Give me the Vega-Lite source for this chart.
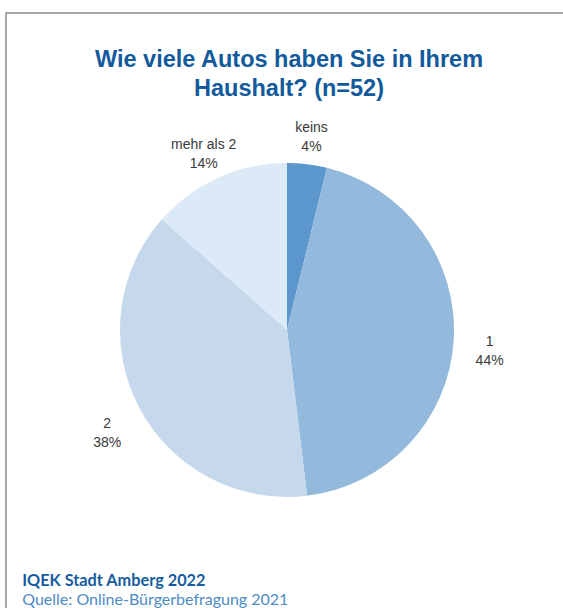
{
  "$schema": "https://vega.github.io/schema/vega-lite/v6.json",
  "background": "white",
  "padding": {"left": 5, "top": 12, "right": 0, "bottom": 0},
  "title": {
    "text": "IQEK Stadt Amberg 2022",
    "subtitle": "Quelle: Online-Bürgerbefragung 2021",
    "orient": "bottom",
    "anchor": "start",
    "offset": -75,
    "dx": 17,
    "font": "Lato",
    "fontSize": 16.3,
    "fontWeight": "bold",
    "color": "#165c9e",
    "subtitleFont": "Lato",
    "subtitleFontSize": 16,
    "subtitleFontWeight": "normal",
    "subtitleColor": "#4d8bc6",
    "subtitlePadding": 3
  },
  "datasets": {
    "autos": [
      {"kategorie": "keins", "anzahl": 2, "rang": 1, "label": "keins\n4%"},
      {"kategorie": "1", "anzahl": 23, "rang": 2, "label": "1\n44%"},
      {"kategorie": "2", "anzahl": 20, "rang": 3, "label": "2\n38%"},
      {"kategorie": "mehr als 2", "anzahl": 7, "rang": 4, "label": "mehr als 2\n14%"}
    ]
  },
  "vconcat": [
    {
      "width": 562,
      "height": 634,
      "view": {"stroke": "#8c8c8c", "strokeWidth": 1.5, "fill": "white"},
      "title": {
        "text": ["Wie viele Autos haben Sie in Ihrem", "Haushalt? (n=52)"],
        "orient": "top",
        "anchor": "middle",
        "frame": "group",
        "offset": -87,
        "dx": 2,
        "font": "Liberation Sans",
        "fontSize": 23.5,
        "fontWeight": "bold",
        "color": "#125a9c",
        "lineHeight": 29
      },
      "data": {"name": "autos"},
      "encoding": {
        "theta": {"field": "anzahl", "type": "quantitative", "stack": true},
        "order": {"field": "rang", "type": "quantitative"},
        "color": {
          "field": "kategorie",
          "type": "nominal",
          "scale": {
            "domain": ["keins", "1", "2", "mehr als 2"],
            "range": ["#5b97cc", "#93b9dc", "#c6d9ec", "#dce9f6"]
          },
          "legend": null
        }
      },
      "layer": [
        {"mark": {"type": "arc", "outerRadius": 167}},
        {
          "mark": {
            "type": "text",
            "radius": 203,
            "lineBreak": "\n",
            "fontSize": 14,
            "font": "Liberation Sans",
            "align": "center",
            "baseline": "middle",
            "lineHeight": 19
          },
          "encoding": {
            "text": {"field": "label", "type": "nominal"},
            "color": {"value": "#3a3a3a"}
          }
        }
      ]
    }
  ],
  "config": {
    "view": {"stroke": "#8c8c8c", "strokeWidth": 1.5},
    "concat": {"spacing": 0}
  }
}
